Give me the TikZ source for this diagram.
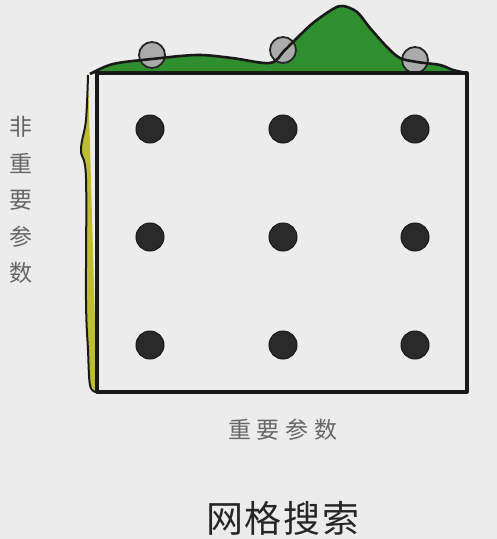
\documentclass[tikz,border=0pt]{standalone}
\usepackage{fontspec}
\newfontfamily\cjk{Noto Sans CJK SC}
\definecolor{bg}{HTML}{ECECEC}
\definecolor{hill}{HTML}{2F8F2F}
\definecolor{olive}{HTML}{BDBD30}
\definecolor{dot}{HTML}{2A2A2A}
\definecolor{ball}{HTML}{ABABAB}
\begin{document}
\begin{tikzpicture}[x=1pt,y=-1pt,
  gridpt/.style={circle,fill=dot,draw=black!90,line width=1pt,minimum size=28pt,inner sep=0pt},
  probe/.style={circle,fill=ball,draw=black!85,line width=1.8pt,minimum size=26pt,inner sep=0pt},
  lbl/.style={font=\cjk\fontsize{23}{23}\selectfont,text=black!60,inner sep=0pt},
  outline/.style={draw=black!90,line width=3.2pt,line join=round}]
\fill[bg] (0,0) rectangle (497,539);
\useasboundingbox (0,0) rectangle (497,539);
% yellow strip
\fill[olive] (97,73) -- (88,75) plot[smooth,tension=0.6] coordinates {(88,75) (86,120) (81,150) (86,178) (86,300) (88,350) (90,385)} -- (97,392) -- cycle;
\draw[black!90,line width=2pt] plot[smooth,tension=0.6] coordinates {(88,75) (86,120) (81,150) (86,178) (86,300) (88,350) (90,385) (96,392)};
% green hill
\fill[hill] plot[smooth,tension=0.55] coordinates {(90,74) (113,64) (152,59) (197,55) (232,58) (270,63) (284,51) (297,38) (313,23) (333,9) (343,6) (357,12) (370,28) (387,47) (400,58) (417,62) (440,65) (453,70) (467,73)} -- cycle;
\node[probe] (p1) at (152,55) {};
\node[probe] (p2) at (283,50) {};
\node[probe] (p3) at (415,60) {};
\draw[black!90,line width=2.6pt] plot[smooth,tension=0.55] coordinates {(90,74) (113,64) (152,59) (197,55) (232,58) (270,63) (284,51) (297,38) (313,23) (333,9) (343,6) (357,12) (370,28) (387,47) (400,58) (417,62) (440,65) (453,70) (467,73)};
% box
\draw[outline] (97,73) rectangle (467,392);
% grid points
\foreach \i/\x in {1/150,2/283,3/415}{
  \foreach \j/\y in {1/129,2/237,3/345}{
    \node[gridpt] (g\i\j) at (\x,\y) {};
  }
}
% labels
\node[lbl] (y1) at (21,127) {非};
\node[lbl] (y2) at (21,163.5) {重};
\node[lbl] (y3) at (21,200) {要};
\node[lbl] (y4) at (21,236.5) {参};
\node[lbl] (y5) at (21,273) {数};
\node[lbl] (xlab) at (283,430) {重\hspace{6pt}要\hspace{6pt}参\hspace{6pt}数};
\node[font=\cjk\fontsize{37}{37}\selectfont,text=black!85,inner sep=0pt] (title) at (283,518) {网\hspace{2pt}格\hspace{2pt}搜\hspace{2pt}索};
\end{tikzpicture}
\end{document}
